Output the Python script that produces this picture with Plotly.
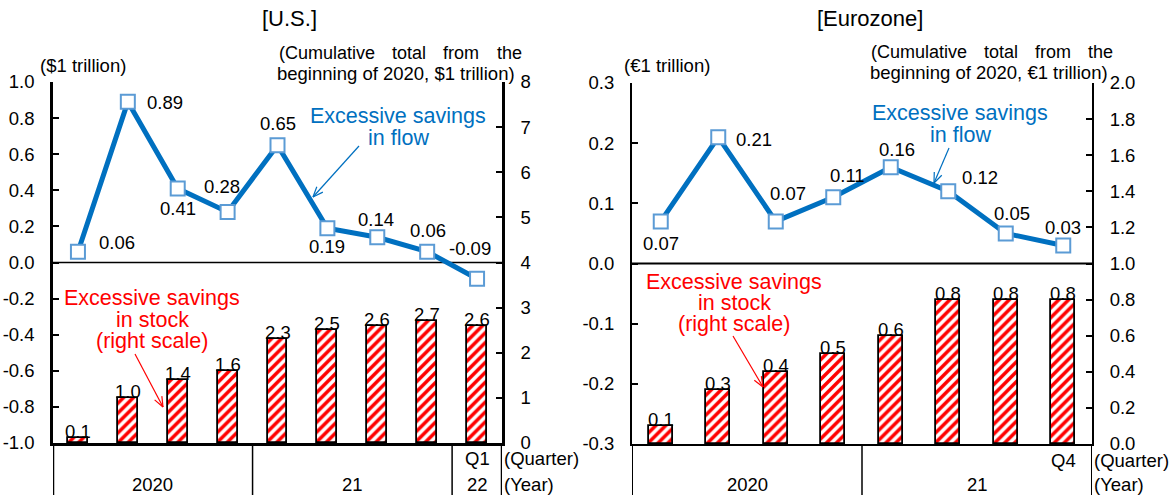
import math
import plotly.graph_objects as go

W, H = 1171, 495

# ---- data -------------------------------------------------------------
us_flow = [0.06, 0.89, 0.41, 0.28, 0.65, 0.19, 0.14, 0.06, -0.09]
us_stock = [0.1, 1.0, 1.4, 1.6, 2.3, 2.5, 2.6, 2.7, 2.6]
ez_flow = [0.07, 0.21, 0.07, 0.11, 0.16, 0.12, 0.05, 0.03]
ez_stock = [0.1, 0.3, 0.4, 0.5, 0.6, 0.8, 0.8, 0.8]

us_quarter_label = "Q1"
ez_quarter_label = "Q4"
us_years = [("2020", 0, 3), ("21", 4, 7), ("22", 8, 8)]
ez_years = [("2020", 0, 3), ("21", 4, 7)]

us_left_ticks = [-1.0, -0.8, -0.6, -0.4, -0.2, 0.0, 0.2, 0.4, 0.6, 0.8, 1.0]
us_left_text = ["-1.0", "-0.8", "-0.6", "-0.4", "-0.2", "0.0", "0.2", "0.4", "0.6", "0.8", "1.0"]
us_right_ticks = [0, 1, 2, 3, 4, 5, 6, 7, 8]
us_right_text = ["0", "1", "2", "3", "4", "5", "6", "7", "8"]
ez_left_ticks = [-0.3, -0.2, -0.1, 0.0, 0.1, 0.2, 0.3]
ez_left_text = ["-0.3", "-0.2", "-0.1", "0.0", "0.1", "0.2", "0.3"]
ez_right_ticks = [0.0, 0.2, 0.4, 0.6, 0.8, 1.0, 1.2, 1.4, 1.6, 1.8, 2.0]
ez_right_text = ["0.0", "0.2", "0.4", "0.6", "0.8", "1.0", "1.2", "1.4", "1.6", "1.8", "2.0"]

# label offsets (pixels, x right / y down) for the flow values
us_flow_off = [(39, -9), (37, 1), (0, 20), (-6, -25), (0, -22), (0, 18), (-1, -18), (1, -21), (-7, -30)]
ez_flow_off = [(0, 22), (36, 2), (12, -28), (14, -22), (6, -18), (32, -14), (6, -20), (0, -18)]

FONT = "Liberation Sans, Arial, sans-serif"
BLUE = "#0070C0"
MARK = "#5B9BD5"
RED = "#FF0000"
FS = 18.5


def px(x):
    return x / W


def py(y):
    return 1 - y / H


fig = go.Figure()

hatch = dict(shape="/", fgcolor=RED, bgcolor="white", size=7, solidity=0.5, fillmode="replace")

# ---- U.S. -------------------------------------------------------------
us_x = list(range(len(us_flow)))
fig.add_trace(go.Bar(x=us_x, y=us_stock, xaxis="x", yaxis="y", width=0.4,
                     marker=dict(color="white", pattern=hatch, line=dict(color="black", width=1.8)),
                     showlegend=False, hoverinfo="skip"))
fig.add_trace(go.Scatter(x=us_x, y=us_flow, xaxis="x", yaxis="y2", mode="lines+markers",
                         line=dict(color=BLUE, width=5),
                         marker=dict(symbol="square", size=14, color="white", line=dict(color=MARK, width=2)),
                         showlegend=False, hoverinfo="skip"))

# ---- Eurozone ---------------------------------------------------------
ez_x = list(range(len(ez_flow)))
fig.add_trace(go.Bar(x=ez_x, y=ez_stock, xaxis="x2", yaxis="y3", width=0.42,
                     marker=dict(color="white", pattern=hatch, line=dict(color="black", width=1.8)),
                     showlegend=False, hoverinfo="skip"))
fig.add_trace(go.Scatter(x=ez_x, y=ez_flow, xaxis="x2", yaxis="y4", mode="lines+markers",
                         line=dict(color=BLUE, width=5),
                         marker=dict(symbol="square", size=14, color="white", line=dict(color=MARK, width=2)),
                         showlegend=False, hoverinfo="skip"))

tickfont = dict(family=FONT, size=FS, color="black")


def yax(domain, rng, vals, text, side, lw, **kw):
    d = dict(domain=domain, range=rng, tickvals=vals, ticktext=text, side=side,
             showline=True, linecolor="black", linewidth=lw, ticks="inside", ticklen=6,
             tickwidth=2, tickcolor="black", showgrid=False, zeroline=False,
             tickfont=tickfont, ticklabelstandoff=12, automargin=False, fixedrange=True)
    d.update(kw)
    return d


us_dom = [py(443), py(82)]
ez_dom = [py(444), py(83)]

fig.update_layout(
    width=W, height=H,
    margin=dict(l=0, r=0, t=0, b=0),
    paper_bgcolor="white", plot_bgcolor="white",
    bargap=0,
    xaxis=dict(domain=[px(53), px(502)], range=[-0.5, len(us_flow) - 0.5], anchor="y",
               showline=True, linecolor="black", linewidth=2.5, showticklabels=False,
               ticks="", showgrid=False, zeroline=False, fixedrange=True),
    yaxis=yax(us_dom, [0, 8], us_right_ticks, us_right_text, "right", 2.5, anchor="x"),
    yaxis2=yax(us_dom, [-1, 1], us_left_ticks, us_left_text, "left", 2.5, anchor="x", overlaying="y"),
    xaxis2=dict(domain=[px(632), px(1092)], range=[-0.5, len(ez_flow) - 0.5], anchor="y3",
                showline=True, linecolor="black", linewidth=2, showticklabels=False,
                ticks="", showgrid=False, zeroline=False, fixedrange=True),
    yaxis3=yax(ez_dom, [0, 2], ez_right_ticks, ez_right_text, "right", 2, anchor="x2"),
    yaxis4=yax(ez_dom, [-0.3, 0.3], ez_left_ticks, ez_left_text, "left", 2, anchor="x2", overlaying="y3"),
)

ann = []
shapes = []


def text(x, y, s, size=FS, color="black", xanchor="center", yanchor="middle", **kw):
    d = dict(x=px(x), y=py(y), xref="paper", yref="paper", text=s, showarrow=False,
             xanchor=xanchor, yanchor=yanchor, font=dict(family=FONT, size=size, color=color))
    d.update(kw)
    ann.append(d)


def lines(x, y0, step, rows, **kw):
    for k, row in enumerate(rows):
        text(x, y0 + k * step, row, **kw)


def data_text(x, y, xr, yr, s, size=FS, yanchor="middle", **kw):
    d = dict(x=x, y=y, xref=xr, yref=yr, text=s, showarrow=False, xanchor="center",
             yanchor=yanchor, font=dict(family=FONT, size=size, color="black"))
    d.update(kw)
    ann.append(d)


def arrow(x0, y0, x1, y1, color, width=1.2, head=11, spread=0.38):
    shapes.append(dict(type="line", xref="paper", yref="paper", x0=px(x0), y0=py(y0),
                       x1=px(x1), y1=py(y1), line=dict(color=color, width=width)))
    ang = math.atan2(y0 - y1, x0 - x1)
    for s in (-spread, spread):
        hx = x1 + head * math.cos(ang + s)
        hy = y1 + head * math.sin(ang + s)
        shapes.append(dict(type="line", xref="paper", yref="paper", x0=px(x1), y0=py(y1),
                           x1=px(hx), y1=py(hy), line=dict(color=color, width=width)))


# titles
text(289, 18, "[U.S.]", size=22)
text(870, 18, "[Eurozone]", size=22)

# axis units
text(38, 66, "($1 trillion)", xanchor="left")
text(622, 66, "(€1 trillion)", xanchor="left")

# justified right-axis captions
for word, x0 in [("(Cumulative", 277), ("total", 390), ("from", 441), ("the", 495)]:
    text(x0, 53, word, xanchor="left", size=18)
text(517, 73, "beginning of 2020, $1 trillion)", xanchor="right")
for word, x0 in [("(Cumulative", 869), ("total", 982), ("from", 1033), ("the", 1086)]:
    text(x0, 52, word, xanchor="left", size=18)
text(1110, 72, "beginning of 2020, €1 trillion)", xanchor="right")

# flow value labels
for i, (v, (dx, dy)) in enumerate(zip(us_flow, us_flow_off)):
    data_text(i, v, "x", "y2", f"{v:.2f}", xshift=dx, yshift=-dy)
for i, (v, (dx, dy)) in enumerate(zip(ez_flow, ez_flow_off)):
    data_text(i, v, "x2", "y4", f"{v:.2f}", xshift=dx, yshift=-dy)

# stock value labels
for i, v in enumerate(us_stock):
    data_text(i, v, "x", "y", f"{v:.1f}", yanchor="bottom", yshift=-6)
for i, v in enumerate(ez_stock):
    data_text(i, v, "x2", "y3", f"{v:.1f}", yanchor="bottom", yshift=-6)

# series callouts
flow_rows = ["Excessive savings", "in flow"]
stock_rows = ["Excessive savings", "in stock", "(right scale)"]
lines(398, 116, 22, flow_rows, size=21.5, color=BLUE)
arrow(359, 146, 313, 197, BLUE)
lines(960, 113, 22, flow_rows, size=21.5, color=BLUE)
arrow(949, 148, 934, 183, BLUE)
lines(152, 298, 21.5, stock_rows, size=21.5, color=RED)
arrow(135, 354, 163, 407, RED)
lines(734, 282, 21, stock_rows, size=21.5, color=RED)
arrow(733, 336, 763, 387, RED)

# category axis (quarter / year rows)
data_text(len(us_flow) - 1, py(458), "x", "paper", us_quarter_label)
data_text(len(ez_flow) - 1, py(460), "x2", "paper", ez_quarter_label)
for lab, a, b in us_years:
    data_text((a + b) / 2, py(484), "x", "paper", lab)
for lab, a, b in ez_years:
    data_text((a + b) / 2, py(484), "x2", "paper", lab)
text(502, 458, "(Quarter)", xanchor="left")
text(502, 484, "(Year)", xanchor="left")
text(1092, 460, "(Quarter)", xanchor="left")
text(1092, 484, "(Year)", xanchor="left")

# vertical separators below each panel
for xr, n, lw in [("x", len(us_flow), 2.5), ("x2", len(ez_flow), 2)]:
    top = py(443) if xr == "x" else py(444)
    for xb in [-0.5, 3.5, n - 0.5] + ([7.5] if xr == "x" else []):
        shapes.append(dict(type="line", xref=xr, yref="paper", x0=xb, x1=xb, y0=top, y1=-0.02,
                           line=dict(color="black", width=lw if xb in (-0.5, n - 0.5) else 1.5)))

# zero lines of the flow scale
shapes.append(dict(type="line", xref="x domain", yref="y2", x0=0, x1=1, y0=0, y1=0,
                   line=dict(color="black", width=1.5), layer="below"))
shapes.append(dict(type="line", xref="x2 domain", yref="y4", x0=0, x1=1, y0=0, y1=0,
                   line=dict(color="black", width=2), layer="below"))

fig.update_layout(annotations=ann, shapes=shapes)
fig.write_html("out.html")
